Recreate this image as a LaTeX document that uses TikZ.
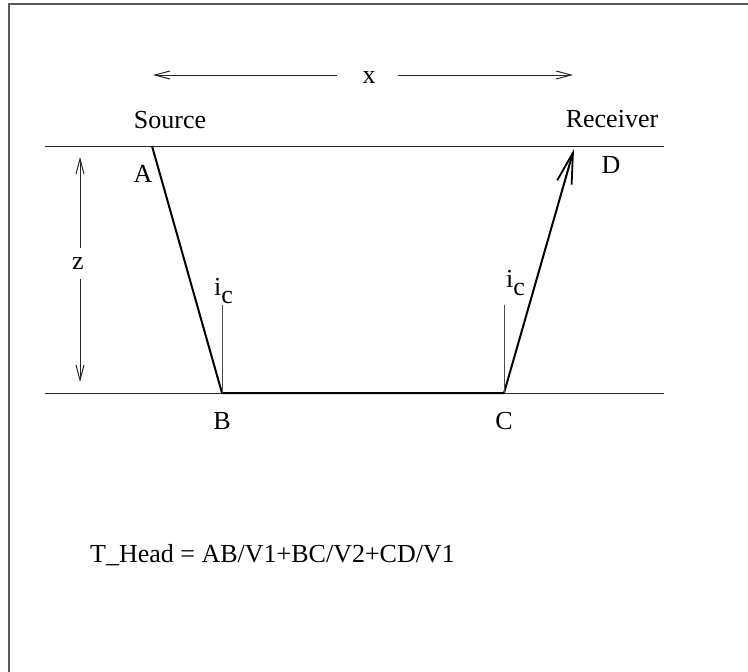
\documentclass[tikz,border=0pt]{standalone}
\usepackage{fontspec}
\setmainfont{Liberation Serif}
\usetikzlibrary{arrows.meta}
\begin{document}
\begin{tikzpicture}[x=1pt,y=-1pt,
  lbl/.style={font=\fontsize{26}{30}\selectfont, inner sep=0pt, anchor=base},
  thinline/.style={line width=1pt, black!85},
  ray/.style={line width=2pt, black},
  smallarrow/.style={thinline, -{Straight Barb[length=15pt,width=8pt]}},
  bigarrow/.style={ray, -{Straight Barb[length=31pt,width=15pt,line width=1.8pt]}},
  frame/.style={line width=1.6pt, black!65}]
\useasboundingbox (0,0) rectangle (748,672);
% frame
\draw[frame] (9,672) -- (9,4) -- (748,4);
% points
\coordinate (A) at (152,146);
\coordinate (B) at (222,393);
\coordinate (C) at (504,393);
\coordinate (D) at (574,149);
\coordinate (TL) at (45,146);
\coordinate (TR) at (664,146);
\coordinate (BL) at (45,393);
\coordinate (BR) at (664,393);
\coordinate (icB) at (222,305);
\coordinate (icC) at (504,305);
% surfaces
\draw[thinline] (TL) -- (TR);
\draw[thinline] (BL) -- (BR);
% rays
\draw[ray] (A) -- (B) -- (C);
\draw[bigarrow] (C) -- (D);
% critical angle markers
\draw[thinline, black!70] (B) -- (icB);
\draw[thinline, black!70] (C) -- (icC);
% x dimension
\coordinate (xl1) at (337,75);
\coordinate (xl2) at (153,75);
\coordinate (xr1) at (398,75);
\coordinate (xr2) at (573,75);
\draw[smallarrow] (xl1) -- (xl2);
\draw[smallarrow] (xr1) -- (xr2);
\node[lbl] (xlab) at (369,83) {x};
% z dimension
\coordinate (zu1) at (80,248);
\coordinate (zu2) at (80,157);
\coordinate (zd1) at (80,279);
\coordinate (zd2) at (80,382);
\draw[smallarrow] (zu1) -- (zu2);
\draw[smallarrow] (zd1) -- (zd2);
\node[lbl] (zlab) at (78,269) {z};
% labels
\node[lbl] (src) at (170,128) {Source};
\node[lbl] (rcv) at (612,127) {Receiver};
\node[lbl] (la) at (143,182) {A};
\node[lbl] (ld) at (611,173) {D};
\node[lbl] (lb) at (222,429) {B};
\node[lbl] (lc) at (504,429) {C};
\node[lbl, anchor=base west] (ic1) at (214,295) {i\raisebox{-8pt}{c}};
\node[lbl, anchor=base west] (ic2) at (506,287) {i\raisebox{-8pt}{c}};
\node[lbl, anchor=base west] (eq) at (90,562) {T\_Head = AB/V1+BC/V2+CD/V1};
\end{tikzpicture}
\end{document}
